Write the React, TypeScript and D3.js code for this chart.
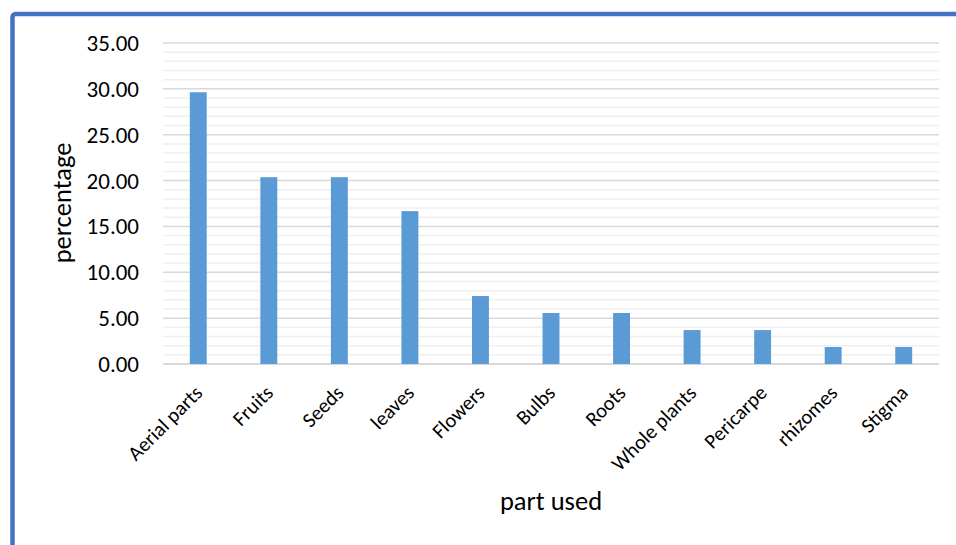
import React, { useEffect } from "react";
import * as d3 from "d3";

const categories = ["Aerial parts", "Fruits", "Seeds", "leaves", "Flowers", "Bulbs", "Roots", "Whole plants", "Pericarpe", "rhizomes", "Stigma"];
const values = [29.63, 20.37, 20.37, 16.67, 7.41, 5.56, 5.56, 3.7, 3.7, 1.85, 1.85];
const majorTicks = [0, 5, 10, 15, 20, 25, 30, 35];
const minorTicks = d3.range(0, 36, 1);

const W = 956, H = 545;
const M = { left: 163, right: 939, top: 43, bottom: 364 };
const FONT = "Carlito, Calibri, Lato, 'Open Sans', sans-serif";

export default function App() {
  useEffect(() => {
    document.body.style.margin = "0";
  }, []);
  const x = d3.scaleBand<string>().domain(categories).range([M.left, M.right]).paddingInner(0.76).paddingOuter(0.38);
  const y = d3.scaleLinear().domain([0, 35]).range([M.bottom, M.top]);
  return (
    <svg width={W} height={H} style={{ display: "block", background: "#fff" }}>
      <rect x={12.5} y={14} width={W + 20} height={H + 20} rx={3} fill="#fff" stroke="#4472C4" strokeWidth={4.5} />
      {minorTicks.filter(t => t % 5 !== 0).map(t => (
        <line key={"m" + t} x1={M.left} x2={M.right} y1={y(t)} y2={y(t)} stroke="#efefef" strokeWidth={1.5} />
      ))}
      {majorTicks.map(t => (
        <line key={"g" + t} x1={M.left} x2={M.right} y1={y(t)} y2={y(t)} stroke="#d9d9d9" strokeWidth={t === 0 ? 2 : 1.5} />
      ))}
      {majorTicks.map(t => (
        <text key={"t" + t} x={139} y={y(t)} dy="0.35em" textAnchor="end" fontFamily={FONT} fontSize={23} fill="#000">{t.toFixed(2)}</text>
      ))}
      {categories.map((c, i) => (
        <rect key={c} x={x(c)} y={y(values[i])} width={x.bandwidth()} height={y(0) - y(values[i])} fill="#5B9BD5" />
      ))}
      {categories.map(c => {
        const cx = (x(c) as number) + x.bandwidth() / 2 + 5.5;
        const cy = 394;
        return (
          <text key={"l" + c} x={cx} y={cy} textAnchor="end" transform={`rotate(-45 ${cx} ${cy})`} fontFamily={FONT} fontSize={20.5} fill="#000">{c}</text>
        );
      })}
      <text x={62} y={203} textAnchor="middle" transform="rotate(-90 62 203)" dy="0.35em" fontFamily={FONT} fontSize={26.5} fill="#000">percentage</text>
      <text x={551} y={510} textAnchor="middle" fontFamily={FONT} fontSize={26.5} fill="#000">part used</text>
    </svg>
  );
}
